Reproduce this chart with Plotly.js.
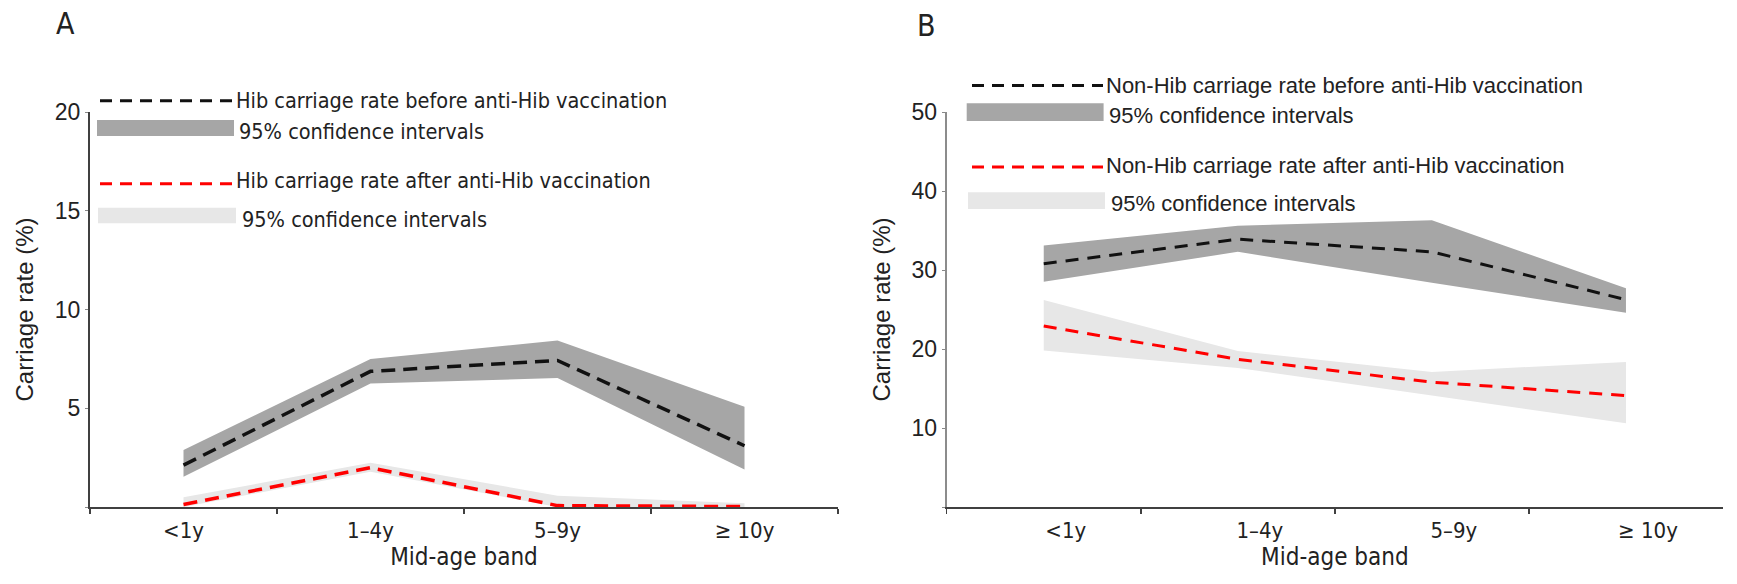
<!DOCTYPE html>
<html>
<head>
<meta charset="utf-8">
<script src="https://cdn.plot.ly/plotly-3.0.1.min.js"></script>
<style>
  html, body { margin: 0; padding: 0; background: #fff; }
  #chart { width: 1737px; height: 584px; }
</style>
</head>
<body>
<div id="chart"></div>
<script>
// age bands on the x axis
var categories = ['<1y', '1–4y', '5–9y', '≥ 10y'];

// panel A: Hib carriage rate (%)
var hibBefore     = [2.12, 6.87, 7.42, 3.10];
var hibBeforeLow  = [1.53, 6.25, 6.53, 1.90];
var hibBeforeHigh = [2.88, 7.49, 8.43, 5.07];
var hibAfter      = [0.13, 1.99, 0.07, 0.02];
var hibAfterLow   = [0.00, 1.78, 0.00, 0.00];
var hibAfterHigh  = [0.49, 2.24, 0.57, 0.19];

// panel B: non-Hib carriage rate (%)
var nonHibBefore     = [30.8, 33.9, 32.3, 26.25];
var nonHibBeforeLow  = [28.5, 32.3, 28.4, 24.6];
var nonHibBeforeHigh = [33.1, 35.6, 36.3, 27.7];
var nonHibAfter      = [22.9, 18.7, 15.8, 14.1];
var nonHibAfterLow   = [19.8, 17.6, 14.1, 10.6];
var nonHibAfterHigh  = [26.2, 19.75, 17.1, 18.35];

// y tick labels
var ticksA = [0, 5, 10, 15, 20];
var tickTextA = ['', '5', '10', '15', '20'];
var ticksB = [0, 10, 20, 30, 40, 50];
var tickTextB = ['', '10', '20', '30', '40', '50'];

var legendA = [
  'Hib carriage rate before anti-Hib vaccination',
  '95% confidence intervals',
  'Hib carriage rate after anti-Hib vaccination',
  '95% confidence intervals'
];
var legendB = [
  'Non-Hib carriage rate before anti-Hib vaccination',
  '95% confidence intervals',
  'Non-Hib carriage rate after anti-Hib vaccination',
  '95% confidence intervals'
];

var DARK = '#a6a6a6';
var LIGHT = '#e7e7e7';
var BLACK = '#111111';
var RED = '#ff0000';
var narrow = '"DejaVu Sans Condensed", "Liberation Sans Narrow", "Roboto Condensed", sans-serif';
var arial = '"Liberation Sans", Arial, sans-serif';

// plot area in pixels, used to place the hand-drawn legends
var L = 90, W = 1633, B0 = 507, H = 395;
function px(x) { return (x - L) / W; }
function py(y) { return (B0 - y) / H; }

function band(low, high, color, xa, ya) {
  return [
    { x: categories, y: low, xaxis: xa, yaxis: ya, mode: 'lines',
      line: { width: 0, color: color }, hoverinfo: 'skip', showlegend: false },
    { x: categories, y: high, xaxis: xa, yaxis: ya, mode: 'lines', fill: 'tonexty',
      fillcolor: color, line: { width: 0, color: color }, hoverinfo: 'skip', showlegend: false }
  ];
}

function rate(vals, color, width, dash, xa, ya) {
  return { x: categories, y: vals, xaxis: xa, yaxis: ya, mode: 'lines',
    line: { color: color, width: width, dash: dash }, showlegend: false };
}

var data = []
  .concat(band(hibBeforeLow, hibBeforeHigh, DARK, 'x', 'y'))
  .concat(band(hibAfterLow, hibAfterHigh, LIGHT, 'x', 'y'))
  .concat([rate(hibBefore, BLACK, 3.5, '14px,8px', 'x', 'y'),
           rate(hibAfter, RED, 3.5, '14px,8px', 'x', 'y')])
  .concat(band(nonHibBeforeLow, nonHibBeforeHigh, DARK, 'x2', 'y2'))
  .concat(band(nonHibAfterLow, nonHibAfterHigh, LIGHT, 'x2', 'y2'))
  .concat([rate(nonHibBefore, BLACK, 3, '13px,9px', 'x2', 'y2'),
           rate(nonHibAfter, RED, 3, '13px,9px', 'x2', 'y2')]);

var shapes = [];
var annotations = [];

function keyLine(x0, x1, y, color) {
  shapes.push({ type: 'line', xref: 'paper', yref: 'paper', x0: px(x0), x1: px(x1),
    y0: py(y), y1: py(y), line: { color: color, width: 3, dash: '12px,8px' } });
}
function keyBox(x0, x1, y0, y1, color) {
  shapes.push({ type: 'rect', xref: 'paper', yref: 'paper', x0: px(x0), x1: px(x1),
    y0: py(y0), y1: py(y1), fillcolor: color, line: { width: 0 } });
}
function label(text, x, y, font, size, anchor) {
  annotations.push({ xref: 'paper', yref: 'paper', x: px(x), y: py(y), text: text,
    showarrow: false, xanchor: anchor || 'left', yanchor: 'middle',
    font: { family: font, size: size, color: '#222' } });
}

// legend A
keyLine(100, 232, 100.7, BLACK);
label(legendA[0], 234, 100, narrow, 21.5);
keyBox(97, 234, 120, 136, DARK);
label(legendA[1], 237, 131, narrow, 21.5);
keyLine(100, 232, 183.7, RED);
label(legendA[2], 234, 180, narrow, 21.5);
keyBox(98, 236, 207.7, 223.3, LIGHT);
label(legendA[3], 240, 219, narrow, 21.5);

// legend B
keyLine(972, 1103, 85.5, BLACK);
label(legendB[0], 1104, 85, arial, 22);
keyBox(966.7, 1103.6, 103.3, 121, DARK);
label(legendB[1], 1107, 115, arial, 22);
keyLine(972, 1103, 167, RED);
label(legendB[2], 1104, 165, arial, 22);
keyBox(968, 1105, 192.3, 209, LIGHT);
label(legendB[3], 1109, 203, arial, 22);

// panel letters
label('A', 65, 24, narrow, 30, 'center');
label('B', 926, 26, narrow, 30, 'center');

function xAxis(domain, shift) {
  return {
    domain: domain, type: 'category', range: [-0.5, 3.5], tickson: 'boundaries',
    showline: true, linecolor: '#404040', linewidth: 2,
    ticks: 'outside', ticklen: 5, tickcolor: '#404040', tickwidth: 1.5,
    showgrid: false, zeroline: false, fixedrange: true,
    ticklabelshift: shift, ticklabelstandoff: 3,
    tickfont: { family: narrow, size: 22, color: '#222' },
    title: { text: 'Mid-age band', standoff: 4, font: { family: narrow, size: 24, color: '#222' } }
  };
}
function yAxis(anchor, range, vals, text, lineColor) {
  return {
    anchor: anchor, domain: [0, 1], range: range, tickvals: vals, ticktext: text,
    showline: true, linecolor: lineColor, linewidth: 2,
    ticks: 'outside', ticklen: 3, tickcolor: '#888', tickwidth: 1,
    showgrid: false, zeroline: false, fixedrange: true,
    tickfont: { family: arial, size: 23, color: '#222' },
    title: { text: 'Carriage rate (%)', standoff: 14, font: { family: arial, size: 24, color: '#222' } }
  };
}

var layout = {
  width: 1737, height: 584,
  margin: { l: 90, r: 14, t: 112, b: 77 },
  paper_bgcolor: '#fff', plot_bgcolor: '#fff',
  showlegend: false,
  xaxis: xAxis([0, px(838)], 0),
  xaxis2: Object.assign(xAxis([px(946.7), 1], 22), { anchor: 'y2' }),
  yaxis: yAxis('x', [0, 20], ticksA, tickTextA, '#404040'),
  yaxis2: yAxis('x2', [0, 50], ticksB, tickTextB, '#8c8c8c'),
  shapes: shapes,
  annotations: annotations
};

Plotly.newPlot(document.getElementById('chart'), data, layout, { displayModeBar: false, staticPlot: true });
</script>
</body>
</html>
